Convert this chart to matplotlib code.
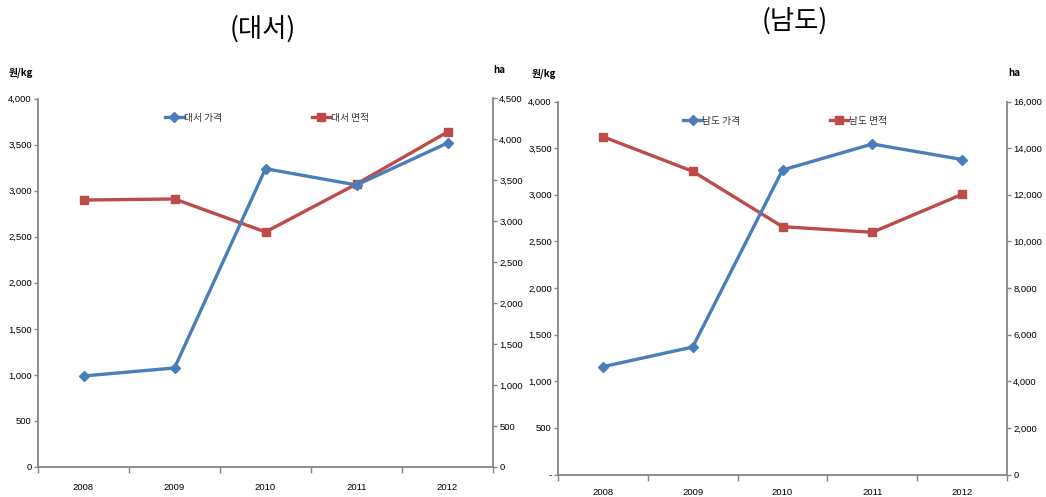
import matplotlib
matplotlib.use("Agg")
import matplotlib.pyplot as plt
from matplotlib import font_manager
from matplotlib.ticker import FixedLocator, FuncFormatter, MultipleLocator
import numpy as np

years = ["2008", "2009", "2010", "2011", "2012"]

# 대서 (Daeseo)
daeseo_price = [988, 1075, 3238, 3061, 3517]      # 원/kg
daeseo_area = [3260, 3273, 2870, 3456, 4091]      # ha

# 남도 (Namdo)
namdo_price = [1156, 1367, 3265, 3544, 3378]      # 원/kg
namdo_area = [14490, 13006, 10630, 10389, 12019]  # ha

BLUE = "#4A7EBB"
RED = "#BE4B48"
AXIS = "#868686"

installed = {f.name for f in font_manager.fontManager.ttflist}
NUM_FONT = "Liberation Sans Narrow" if "Liberation Sans Narrow" in installed else "Liberation Sans"
KR_FONT = "Noto Sans CJK KR"
plt.rcParams["font.family"] = [KR_FONT, "DejaVu Sans"]

fig = plt.figure(figsize=(10.46, 4.97), dpi=100)
W, H = 1046, 497


def px_axes(x0, x1, ytop, ybot):
    return fig.add_axes([x0 / W, (H - ybot) / H, (x1 - x0) / W, (ybot - ytop) / H])


def style(ax, side_spines):
    for s in ["top", "right", "left", "bottom"]:
        ax.spines[s].set_visible(s in side_spines)
        ax.spines[s].set_color(AXIS)
        ax.spines[s].set_linewidth(1.3)
    ax.tick_params(colors=AXIS, direction="out", length=3, width=1,
                   labelcolor="black", pad=1.5)


def comma(zero_text="0"):
    return FuncFormatter(lambda v, p: zero_text if abs(v) < 1e-9 else f"{v:,.0f}")


def panel(x0, x1, ytop, ybot, price, area, pmax, pstep, amax, astep,
          names, zero_text, xlab_pad):
    ax = px_axes(x0, x1, ytop, ybot)
    ax2 = ax.twinx()
    x = np.arange(len(years))
    l1, = ax.plot(x, price, color=BLUE, lw=2.4, marker="D", ms=5.5, label=names[0], zorder=3)
    l2, = ax2.plot(x, area, color=RED, lw=2.4, marker="s", ms=6, label=names[1], zorder=3)
    ax.set_xlim(-0.5, len(years) - 0.5)
    ax.set_ylim(0, pmax)
    ax2.set_ylim(0, amax)
    ax.yaxis.set_major_locator(MultipleLocator(pstep))
    ax2.yaxis.set_major_locator(MultipleLocator(astep))
    ax.yaxis.set_major_formatter(comma(zero_text))
    ax2.yaxis.set_major_formatter(comma())
    # category labels centred, tick marks between categories
    ax.xaxis.set_major_locator(FixedLocator(x))
    ax.set_xticklabels(years)
    ax.xaxis.set_minor_locator(FixedLocator(np.arange(-0.5, len(years), 1.0)))
    style(ax, ["left", "bottom"])
    style(ax2, ["right"])
    ax.tick_params(axis="x", which="major", length=0, pad=xlab_pad)
    ax.tick_params(axis="x", which="minor", length=4, width=1, colors=AXIS, direction="out")
    for lab in ax.get_xticklabels() + ax.get_yticklabels() + ax2.get_yticklabels():
        lab.set_fontfamily(NUM_FONT)
        lab.set_fontsize(6.8)
    ax.patch.set_visible(False)
    ax2.set_zorder(ax.get_zorder() - 1)
    ax.set_zorder(ax2.get_zorder() + 1)
    leg = ax.legend(handles=[l1, l2], ncol=2, loc="upper left",
                    bbox_to_anchor=(0.26, 0.985), frameon=False, fontsize=7,
                    handlelength=1.9, handletextpad=0.05, columnspacing=9.2,
                    markerscale=0.9)
    for t in leg.get_texts():
        t.set_color("#333333")
    return ax, ax2


panel(38, 493, 98.5, 467, daeseo_price, daeseo_area, 4000, 500, 4500, 500,
      ["대서 가격", "대서 면적"], "0", 11.5)
panel(558, 1007, 101.5, 474.5, namdo_price, namdo_area, 4000, 500, 16000, 2000,
      ["남도 가격", "남도 면적"], "-", 9.5)

# unit captions
fig.text(9 / W, 1 - 73 / H, "원/kg", fontsize=7, fontweight="bold", va="center", ha="left")
fig.text(493 / W, 1 - 70 / H, "ha", fontsize=7, fontweight="bold", va="center", ha="left")
fig.text(532 / W, 1 - 74 / H, "원/kg", fontsize=7, fontweight="bold", va="center", ha="left")
fig.text(1008 / W, 1 - 73 / H, "ha", fontsize=7, fontweight="bold", va="center", ha="left")

# panel titles
fig.text(263 / W, 1 - 29 / H, "(대서)", fontsize=19, fontweight="light", va="center", ha="center")
fig.text(795 / W, 1 - 21 / H, "(남도)", fontsize=19, fontweight="light", va="center", ha="center")

fig.savefig("out.png", dpi=100, facecolor="white")
